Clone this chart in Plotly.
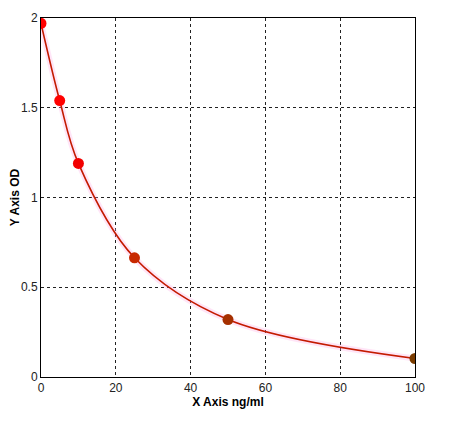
import plotly.graph_objects as go

conc = [0, 5, 10, 25, 50, 100]
od = [1.97, 1.54, 1.19, 0.664, 0.32, 0.103]
marker_colors = ["#ff0000", "#ff0000", "#f20000", "#c82800", "#a53000", "#7a3c00"]

x_ticks = [0, 20, 40, 60, 80, 100]
y_ticks = [0, 0.5, 1, 1.5, 2]
y_tick_text = ["0", "0.5", "1", "1.5", "2"]

fig = go.Figure()
fig.add_trace(go.Scatter(
    x=conc, y=od, mode="lines", line=dict(color="rgba(255,170,230,0.3)", width=6, shape="spline", smoothing=1.0),
    hoverinfo="skip", showlegend=False))
fig.add_trace(go.Scatter(
    x=conc, y=od, mode="lines", line=dict(color="#c41a00", width=1.6, shape="spline", smoothing=1.0),
    showlegend=False))
fig.add_trace(go.Scatter(
    x=conc, y=od, mode="markers", marker=dict(color=marker_colors, size=11, line=dict(width=0)),
    showlegend=False))

axis_common = dict(
    showline=True, linecolor="black", linewidth=1, mirror=True,
    showgrid=True, gridcolor="#222222", griddash="3px,3px", gridwidth=1,
    zeroline=False, ticks="", automargin=False,
    tickfont=dict(family="Liberation Sans, Arial", size=12, color="#222222"),
)
fig.update_xaxes(range=[0, 100], tickvals=x_ticks,
                 title=dict(text="<b>X Axis ng/ml</b>", font=dict(family="Liberation Sans, Arial", size=12, color="black"), standoff=0),
                 **axis_common)
fig.update_yaxes(range=[0, 2], tickvals=y_ticks, ticktext=y_tick_text,
                 title=dict(text="<b>Y Axis OD</b>", font=dict(family="Liberation Sans, Arial", size=12, color="black"), standoff=6),
                 **axis_common)

fig.update_layout(
    width=462, height=425,
    margin=dict(l=33, r=55, t=10, b=56),
    plot_bgcolor="white", paper_bgcolor="white",
)
fig.write_html("out.html")
